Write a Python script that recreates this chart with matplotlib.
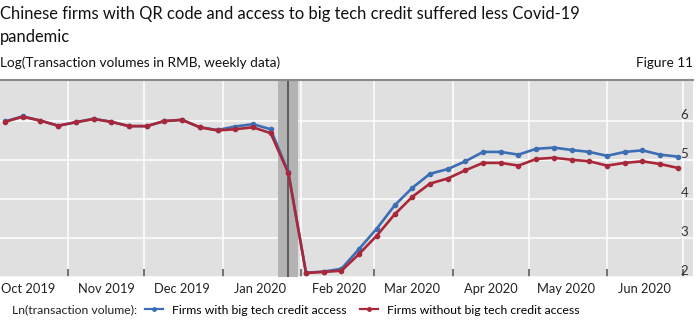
import pandas as pd
import numpy as np
import matplotlib.pyplot as plt
import matplotlib.dates as mdates
from matplotlib.lines import Line2D

plt.rcParams['font.family'] = ['Lato', 'DejaVu Sans']

# weekly observations (Mondays)
dates = pd.date_range('2019-10-07', '2020-06-29', freq='7D')

with_credit = [5.98, 6.11, 6.00, 5.87, 5.96, 6.05, 5.97, 5.86, 5.86, 5.99,
               6.02, 5.83, 5.76, 5.85, 5.91, 5.78, 4.68, 2.11, 2.14, 2.21,
               2.72, 3.24, 3.83, 4.28, 4.64, 4.76, 4.96, 5.20, 5.20, 5.13,
               5.28, 5.31, 5.25, 5.20, 5.10, 5.20, 5.24, 5.13, 5.08]
without_credit = [5.97, 6.10, 6.00, 5.87, 5.96, 6.04, 5.97, 5.86, 5.86, 5.99,
                  6.02, 5.83, 5.75, 5.78, 5.83, 5.68, 4.66, 2.10, 2.13, 2.16,
                  2.59, 3.06, 3.60, 4.05, 4.39, 4.52, 4.73, 4.92, 4.92, 4.85,
                  5.02, 5.05, 5.00, 4.96, 4.85, 4.92, 4.96, 4.89, 4.79]
y_ticks = [2, 3, 4, 5, 6]

blue = '#3d6eb4'
red = '#a8283a'

fig = plt.figure(figsize=(7, 3.25), dpi=100)
ax = fig.add_axes([0, 1 - 277 / 325, 693 / 700, (277 - 80) / 325])
ax.set_facecolor('#e0e0e0')

ax.axvspan(pd.Timestamp('2020-01-23'), pd.Timestamp('2020-01-31'),
           color='#b3b3b3', zorder=1, lw=0)
ax.axvline(dates[16], color='#555555', lw=1.3, zorder=1.5)

ax.plot(dates, with_credit, color=blue, lw=1.9, marker='o', ms=3,
        zorder=3)
ax.plot(dates, without_credit, color=red, lw=1.9, marker='o', ms=3,
        zorder=4)

ax.set_xlim(pd.Timestamp('2019-10-05'), pd.Timestamp('2020-07-05'))
ax.set_ylim(2.0, 7.04)

# month boundaries: grid + tick marks, labels at mid-month
ax.xaxis.set_major_locator(mdates.MonthLocator())
ax.xaxis.set_major_formatter(plt.NullFormatter())
ax.xaxis.set_minor_locator(mdates.MonthLocator(bymonthday=16))
ax.xaxis.set_minor_formatter(mdates.DateFormatter('%b %Y'))
ax.tick_params(axis='x', which='major', direction='in', length=6,
               width=1.3, color='#666666')
ax.tick_params(axis='x', which='minor', length=0, pad=4,
               labelsize=9.3, labelcolor='#222222')

ax.yaxis.tick_right()
ax.set_yticks(y_ticks)
ax.tick_params(axis='y', length=0, pad=-9, labelsize=9.5,
               labelcolor='#333333')
for lab in ax.get_yticklabels():
    lab.set_va('bottom')

ax.grid(True, which='major', color='white', lw=1.1, zorder=0)
ax.set_axisbelow(True)
for s in ['left', 'right', 'bottom']:
    ax.spines[s].set_visible(False)
ax.spines['top'].set_color('#8a8a8a')
ax.spines['top'].set_linewidth(1.5)

fig.text(0.0, 1 - 14 / 325,
         'Chinese firms with QR code and access to big tech credit suffered less Covid-19',
         fontsize=11.9, va='center', ha='left', color='#111111')
fig.text(0.0, 1 - 37 / 325, 'pandemic',
         fontsize=11.9, va='center', ha='left', color='#111111')
fig.text(0.0, 1 - 63 / 325, 'Log(Transaction volumes in RMB, weekly data)',
         fontsize=9.8, va='center', ha='left', color='#111111')
fig.text(693 / 700, 1 - 63 / 325, 'Figure 11',
         fontsize=9.8, va='center', ha='right', color='#111111')

fig.text(12 / 700, 1 - 310 / 325, 'Ln(transaction volume):',
         fontsize=8.8, va='center', ha='left', color='#222222')
handles = [Line2D([], [], color=blue, lw=1.6, marker='o', ms=2.5,
                  markevery=[1]),
           Line2D([], [], color=red, lw=1.6, marker='o', ms=2.5,
                  markevery=[1])]
for h in handles:
    h.set_data([0, 0.5, 1], [0, 0, 0])
fig.legend(handles, ['Firms with big tech credit access',
                     'Firms without big tech credit access'],
           loc='center left', bbox_to_anchor=(145 / 700, 1 - 310 / 325),
           ncol=2, frameon=False, fontsize=8.8, handlelength=1.5,
           handletextpad=0.7, columnspacing=1.1, borderpad=0, borderaxespad=0)

fig.savefig('out.png', dpi=100)
